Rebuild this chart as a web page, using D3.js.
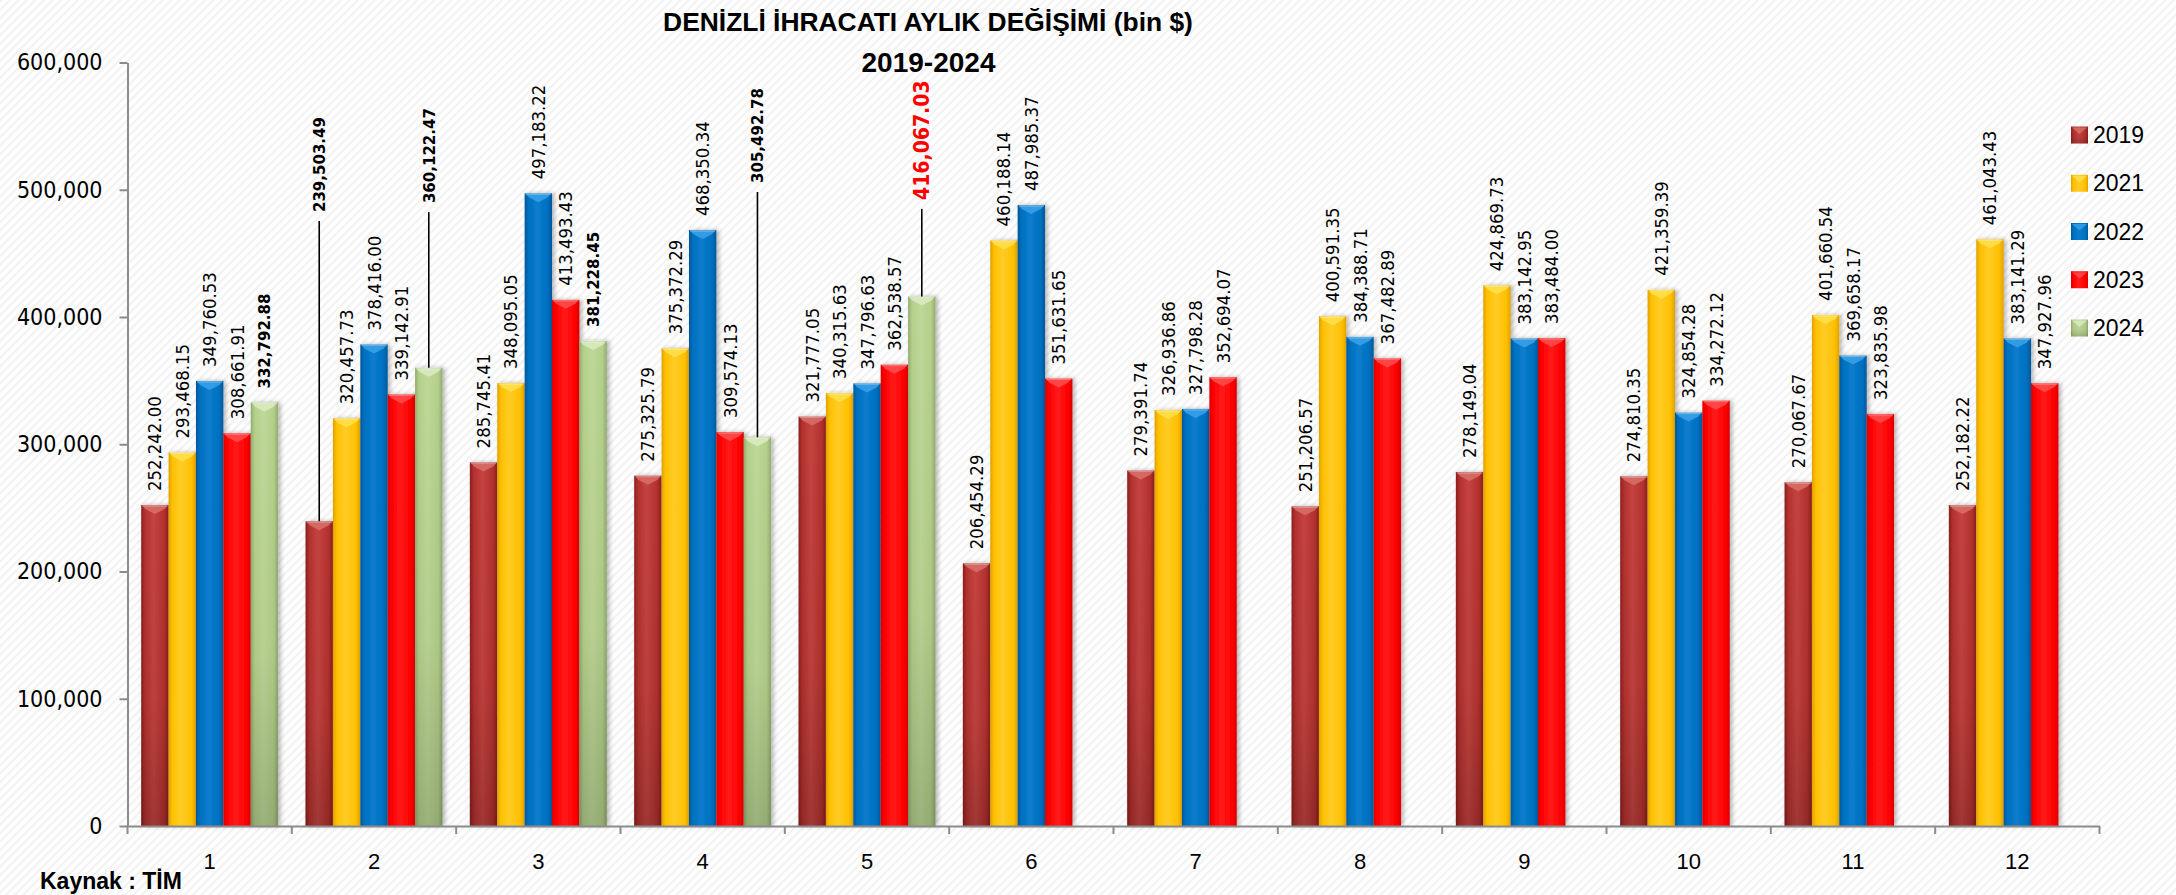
<!DOCTYPE html>
<html>
<head>
<meta charset="utf-8">
<script src="https://cdn.jsdelivr.net/npm/d3@7"></script>
<style>
  html, body { margin: 0; padding: 0; background: #ffffff; }
  svg { display: block; }
</style>
</head>
<body>
<script>
// ---------------- DATA ----------------
const months = [1, 2, 3, 4, 5, 6, 7, 8, 9, 10, 11, 12];
const seriesNames = ["2019", "2021", "2022", "2023", "2024"];
const v2019 = [252242.00, 239503.49, 285745.41, 275325.79, 321777.05, 206454.29, 279391.74, 251206.57, 278149.04, 274810.35, 270067.67, 252182.22];
const v2021 = [293468.15, 320457.73, 348095.05, 375372.29, 340315.63, 460188.14, 326936.86, 400591.35, 424869.73, 421359.39, 401660.54, 461043.43];
const v2022 = [349760.53, 378416.00, 497183.22, 468350.34, 347796.63, 487985.37, 327798.28, 384388.71, 383142.95, 324854.28, 369658.17, 383141.29];
const v2023 = [308661.91, 339142.91, 413493.43, 309574.13, 362538.57, 351631.65, 352694.07, 367482.89, 383484.00, 334272.12, 323835.98, 347927.96];
const v2024 = [332792.88, 360122.47, 381228.45, 305492.78, 416067.03];
const yTicks = [0, 100000, 200000, 300000, 400000, 500000, 600000];
const titleLine1 = "DENİZLİ İHRACATI AYLIK DEĞİŞİMİ (bin $)";
const titleLine2 = "2019-2024";
const sourceText = "Kaynak : TİM";

const seriesValues = { "2019": v2019, "2021": v2021, "2022": v2022, "2023": v2023, "2024": v2024 };

// ---------------- STYLE / LAYOUT ----------------
const W = 2176, H = 895;
const condensed = "'DejaVu Sans Condensed', 'DejaVu Sans', Verdana, sans-serif";
const colors = {
  "2019": { base: "#b3312e", dark: "#8a1f1d", light: "#c44440", cap: "#d9706a" },
  "2021": { base: "#ffc000", dark: "#e0a100", light: "#ffcc26", cap: "#ffe04d" },
  "2022": { base: "#0070c0", dark: "#00589a", light: "#0a7ccd", cap: "#3aa2ea" },
  "2023": { base: "#ff0000", dark: "#d80000", light: "#ff1a1a", cap: "#ff4d4d" },
  "2024": { base: "#b3d08a", dark: "#92ab70", light: "#bfd898", cap: "#dcebc4" }
};
const vertShade = { "2019": true, "2024": true };
// labels pulled up with a leader line (label start given in value units)
const callouts = [
  { series: "2019", month: 2, labelAt: 482500 },
  { series: "2024", month: 2, labelAt: 489500 },
  { series: "2024", month: 4, labelAt: 505300 },
  { series: "2024", month: 5, labelAt: 492000 }
];
const boldLabels = [{ series: "2019", month: 2 }];
const highlight = { series: "2024", month: 5 };

const svg = d3.select("body").append("svg").attr("width", W).attr("height", H);
const defs = svg.append("defs");

// background diagonal hatch
const pat = defs.append("pattern").attr("id", "hatch").attr("patternUnits", "userSpaceOnUse")
  .attr("width", 6).attr("height", 6).attr("patternTransform", "rotate(45)");
pat.append("rect").attr("width", 6).attr("height", 6).attr("fill", "#ffffff");
pat.append("rect").attr("width", 2.2).attr("height", 6).attr("fill", "#f2f2f2");
svg.append("rect").attr("width", W).attr("height", H).attr("fill", "url(#hatch)");

// gradients
seriesNames.forEach(s => {
  const c = colors[s];
  const g = defs.append("linearGradient").attr("id", "g" + s).attr("x1", 0).attr("x2", 1).attr("y1", 0).attr("y2", 0);
  g.append("stop").attr("offset", "0%").attr("stop-color", c.dark);
  g.append("stop").attr("offset", "14%").attr("stop-color", c.base);
  g.append("stop").attr("offset", "45%").attr("stop-color", c.light);
  g.append("stop").attr("offset", "84%").attr("stop-color", c.base);
  g.append("stop").attr("offset", "100%").attr("stop-color", c.dark);
});
const vg = defs.append("linearGradient").attr("id", "vshade").attr("x1", 0).attr("x2", 0).attr("y1", 0).attr("y2", 1);
vg.append("stop").attr("offset", "0%").attr("stop-color", "#000").attr("stop-opacity", 0);
vg.append("stop").attr("offset", "60%").attr("stop-color", "#000").attr("stop-opacity", 0.04);
vg.append("stop").attr("offset", "100%").attr("stop-color", "#000").attr("stop-opacity", 0.18);

const flt = defs.append("filter").attr("id", "shadow").attr("x", "-30%").attr("y", "-5%").attr("width", "160%").attr("height", "110%");
flt.append("feDropShadow").attr("dx", 2.5).attr("dy", 0).attr("stdDeviation", 2).attr("flood-color", "#000").attr("flood-opacity", 0.28);

// scales
const x0 = d3.scaleBand().domain(months).range([127.5, 2099.5]).paddingInner(0).paddingOuter(0);
const x1 = d3.scaleBand().domain(seriesNames).range([0, x0.bandwidth()]).paddingInner(0).paddingOuter(0.5);
const y = d3.scaleLinear().domain([0, 600000]).range([826, 62.5]);
const fmt = d3.format(",.2f");

// flat data records
const records = [];
seriesNames.forEach(s => {
  seriesValues[s].forEach((v, i) => records.push({ series: s, month: months[i], value: v }));
});

// bars
const barG = svg.append("g");
const bars = barG.selectAll("g.bar").data(records).join("g").attr("class", "bar")
  .attr("filter", "url(#shadow)");
bars.append("rect")
  .attr("x", d => x0(d.month) + x1(d.series))
  .attr("y", d => y(d.value))
  .attr("width", x1.bandwidth())
  .attr("height", d => y(0) - y(d.value))
  .attr("fill", d => "url(#g" + d.series + ")");
bars.filter(d => vertShade[d.series]).append("rect")
  .attr("x", d => x0(d.month) + x1(d.series))
  .attr("y", d => y(d.value))
  .attr("width", x1.bandwidth())
  .attr("height", d => y(0) - y(d.value))
  .attr("fill", "url(#vshade)");
// top bevel
bars.append("polygon")
  .attr("points", d => {
    const xa = x0(d.month) + x1(d.series), xb = xa + x1.bandwidth(), t = y(d.value);
    return [[xa + 1.5, t + 1], [xb - 1.5, t + 1], [xb - 4, t + 4], [(xa + xb) / 2, t + 9], [xa + 4, t + 4]].map(p => p.join(",")).join(" ");
  })
  .attr("fill", d => colors[d.series].cap).attr("opacity", 0.85);
bars.append("rect")
  .attr("x", d => x0(d.month) + x1(d.series) + 1)
  .attr("y", d => y(d.value))
  .attr("width", x1.bandwidth() - 2)
  .attr("height", 1.5)
  .attr("fill", "#ffffff").attr("opacity", 0.35);

// axes
const axisColor = "#8c8c8c";
const yAxis = svg.append("g").attr("transform", "translate(127.5,0)")
  .call(d3.axisLeft(y).tickValues(yTicks).tickFormat(d3.format(",")).tickSizeInner(8).tickSizeOuter(0).tickPadding(17));
yAxis.select(".domain").attr("stroke", axisColor).attr("stroke-width", 2);
yAxis.selectAll(".tick line").attr("stroke", axisColor).attr("stroke-width", 2);
yAxis.selectAll(".tick text").attr("font-family", condensed).attr("font-stretch", "condensed")
  .attr("font-size", 23).attr("fill", "#000");

const xAxis = svg.append("g").attr("transform", "translate(0,826)")
  .call(d3.axisBottom(x0).tickSize(0).tickPadding(27));
xAxis.select(".domain").attr("stroke", axisColor).attr("stroke-width", 2);
xAxis.selectAll(".tick text").attr("font-family", "'Liberation Sans', Arial, sans-serif").attr("font-size", 22).attr("fill", "#000");
const bounds = months.map(m => x0(m)).concat([x0.range()[1]]);
svg.append("g").selectAll("line").data(bounds).join("line")
  .attr("x1", d => d).attr("x2", d => d).attr("y1", 826).attr("y2", 834)
  .attr("stroke", axisColor).attr("stroke-width", 2);

// data labels
const isBold = d => d.series === "2024" || boldLabels.some(b => b.series === d.series && b.month === d.month);
const isHi = d => d.series === highlight.series && d.month === highlight.month;
const callOf = d => callouts.find(c => c.series === d.series && c.month === d.month);
const labG = svg.append("g");
records.forEach(d => {
  const cx = x0(d.month) + x1(d.series) + x1.bandwidth() / 2;
  const co = callOf(d);
  const ly = co ? y(co.labelAt) : y(d.value) - 14;
  labG.append("text")
    .attr("transform", `translate(${cx},${ly}) rotate(-90)`)
    .attr("text-anchor", "start")
    .attr("dominant-baseline", "central")
    .attr("font-family", condensed).attr("font-stretch", "condensed")
    .attr("font-size", isHi(d) ? 21 : (isBold(d) ? 16.7 : 18.4))
    .attr("font-weight", isBold(d) ? "bold" : "normal")
    .attr("fill", isHi(d) ? "#ff0000" : "#000")
    .text(fmt(d.value));
  if (co) {
    labG.append("line")
      .attr("x1", cx).attr("x2", cx)
      .attr("y1", ly + 9).attr("y2", y(d.value))
      .attr("stroke", "#000").attr("stroke-width", 1.6);
  }
});

// title
svg.append("text").attr("x", 928).attr("y", 31).attr("text-anchor", "middle")
  .attr("font-family", "'Liberation Sans', Arial, sans-serif").attr("font-weight", "bold")
  .attr("font-size", 26.4).attr("fill", "#000").text(titleLine1);
svg.append("text").attr("x", 928.5).attr("y", 71.5).attr("text-anchor", "middle")
  .attr("font-family", "'Liberation Sans', Arial, sans-serif").attr("font-weight", "bold")
  .attr("font-size", 28).attr("fill", "#000").text(titleLine2);

// source
svg.append("text").attr("x", 40).attr("y", 889)
  .attr("font-family", "'Liberation Sans', Arial, sans-serif").attr("font-weight", "bold")
  .attr("font-size", 23).attr("fill", "#000").text(sourceText);

// legend
const legY = d3.scalePoint().domain(seriesNames).range([135, 328]);
const leg = svg.append("g").selectAll("g").data(seriesNames).join("g")
  .attr("transform", s => `translate(2071,${legY(s)})`);
leg.append("rect").attr("x", 0).attr("y", -8.5).attr("width", 17).attr("height", 17)
  .attr("fill", s => "url(#g" + s + ")");
leg.filter(s => vertShade[s]).append("rect").attr("x", 0).attr("y", -8.5).attr("width", 17).attr("height", 17)
  .attr("fill", "url(#vshade)");
leg.append("polygon").attr("points", "1,-7.5 16,-7.5 8.5,-1").attr("fill", s => colors[s].cap).attr("opacity", 0.8);
leg.append("text").attr("x", 22).attr("y", 0).attr("dominant-baseline", "central")
  .attr("font-family", "'Liberation Sans', Arial, sans-serif").attr("font-size", 23).attr("fill", "#000")
  .text(s => s);
</script>
</body>
</html>
